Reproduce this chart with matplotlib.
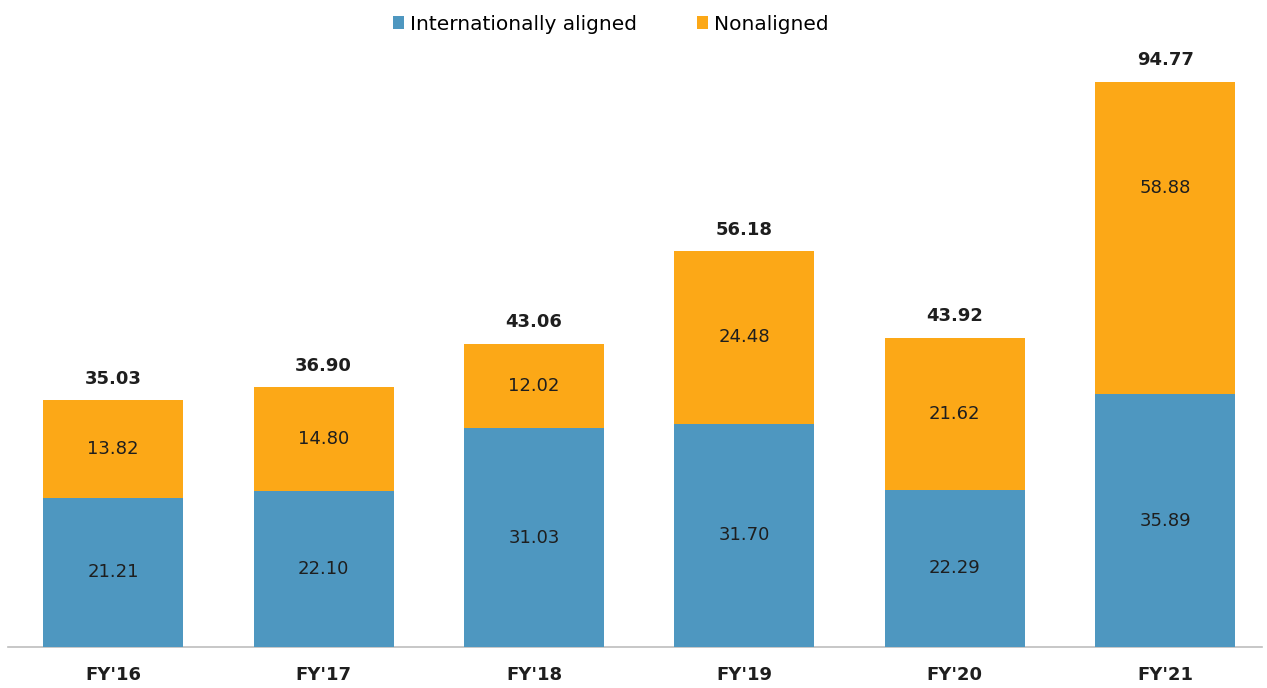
import numpy as np
import matplotlib
matplotlib.use("Agg")
import matplotlib.pyplot as plt

years = ["FY'16", "FY'17", "FY'18", "FY'19", "FY'20", "FY'21"]
aligned = [21.21, 22.10, 31.03, 31.70, 22.29, 35.89]
nonaligned = [13.82, 14.80, 12.02, 24.48, 21.62, 58.88]
totals = [35.03, 36.90, 43.06, 56.18, 43.92, 94.77]

BLUE = "#4E97C0"
ORANGE = "#FCA817"
TXT = "#1e1e1e"

# the original compresses the top of the tallest bar; use a two-slope scale
BREAK = 65.0
SQUEEZE = 0.511


def fwd(y):
    y = np.asarray(y, dtype=float)
    return np.where(y <= BREAK, y, BREAK + (y - BREAK) * SQUEEZE)


def inv(y):
    y = np.asarray(y, dtype=float)
    return np.where(y <= BREAK, y, BREAK + (y - BREAK) / SQUEEZE)


plt.rcParams.update({
    "font.family": ["DejaVu Sans"],
    "font.size": 12,
})

fig = plt.figure(figsize=(12.67, 6.88), dpi=100)
ax = fig.add_axes([8 / 1267, 41 / 688, 1254 / 1267, 584 / 688])
ax.set_yscale("function", functions=(fwd, inv))

x = np.arange(len(years))
bar_w = 0.665

ax.bar(x, aligned, bar_w, color=BLUE, label="Internationally aligned", zorder=3)
ax.bar(x, nonaligned, bar_w, bottom=aligned, color=ORANGE, label="Nonaligned", zorder=3)

for i in range(len(years)):
    ax.text(x[i], aligned[i] / 2, f"{aligned[i]:.2f}",
            ha="center", va="center", fontsize=13, color=TXT)
    ax.text(x[i], aligned[i] + nonaligned[i] / 2, f"{nonaligned[i]:.2f}",
            ha="center", va="center", fontsize=13, color=TXT)
    ax.annotate(f"{totals[i]:.2f}", (x[i], totals[i]), xytext=(0, 9),
                textcoords="offset points", ha="center", va="bottom",
                fontsize=13, fontweight="bold", color=TXT)

ax.set_xlim(-0.5, 5.46)
ax.set_ylim(0, 100)
ax.set_xticks(x)
ax.set_xticklabels(years, fontsize=13, fontweight="bold", color=TXT)
ax.tick_params(axis="x", length=0, pad=14)
ax.set_yticks([])
ax.minorticks_off()
for side in ["top", "right", "left"]:
    ax.spines[side].set_visible(False)
ax.spines["bottom"].set_color("#bdbdbd")
ax.spines["bottom"].set_linewidth(1.2)

fig.legend(loc="upper center", bbox_to_anchor=(0.482, 1.005), ncol=2, frameon=False,
           fontsize=14.5, handlelength=0.55, handleheight=0.55, columnspacing=3.0,
           handletextpad=0.3)

fig.savefig("out.png", dpi=100)
